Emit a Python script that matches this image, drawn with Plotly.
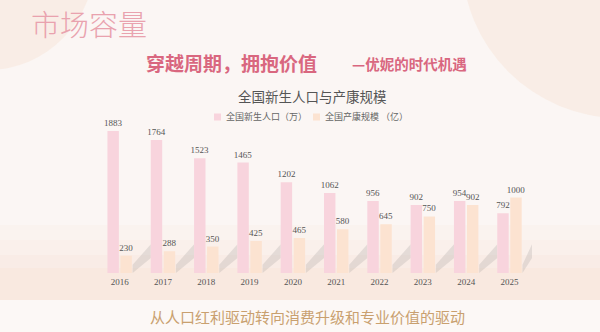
import plotly.graph_objects as go

years = ["2016", "2017", "2018", "2019", "2020", "2021", "2022", "2023", "2024", "2025"]
births = [1883, 1764, 1523, 1465, 1202, 1062, 956, 902, 954, 792]
market = [230, 288, 350, 425, 465, 580, 645, 750, 902, 1000]
births_name = "全国新生人口（万）"
market_name = "全国产康规模 （亿）"

W, H = 600, 332
PINK = "#f8d4dd"
BEIGE = "#fce3d1"
CJK = "Noto Sans CJK SC"
NUM = "Liberation Serif"


def py(px):
    return 1 - px / H


def px_x(px):
    return px / W


fig = go.Figure()
fig.add_trace(go.Bar(x=years, y=births, name=births_name, marker=dict(color=PINK, line=dict(width=0)),
                     text=[str(v) for v in births], textposition="outside", cliponaxis=False,
                     constraintext="none",
                     textfont=dict(family=NUM, size=9, color="#555555"), showlegend=False))
fig.add_trace(go.Bar(x=years, y=market, name=market_name, marker=dict(color=BEIGE, line=dict(width=0)),
                     text=[str(v) for v in market], textposition="outside", cliponaxis=False,
                     constraintext="none",
                     textfont=dict(family=NUM, size=9, color="#555555"), showlegend=False))

shapes = []
shapes.append(dict(type="rect", xref="paper", yref="paper", x0=0, x1=1, y0=0, y1=1,
                   fillcolor="#fbf6f4", line=dict(width=0), layer="below"))
# top-left circle
shapes.append(dict(type="circle", xref="paper", yref="paper",
                   x0=px_x(-120), x1=px_x(95), y0=py(70), y1=py(-150),
                   fillcolor="#f8e9df", line=dict(width=0), layer="below", opacity=0.7))
# top-right circle
shapes.append(dict(type="circle", xref="paper", yref="paper",
                   x0=px_x(620 - 158), x1=px_x(620 + 158), y0=py(-40 + 158), y1=py(-40 - 158),
                   fillcolor="#f8e9df", line=dict(width=0), layer="below", opacity=0.7))
# bottom band gradient
for a, b, op in [(225, 300, 0.15), (240, 300, 0.2), (255, 300, 0.3), (268, 300, 0.45)]:
    shapes.append(dict(type="rect", xref="paper", yref="paper", x0=0, x1=1, y0=py(b), y1=py(a),
                       fillcolor="#f9e6da", line=dict(width=0), layer="below", opacity=op))
shapes.append(dict(type="rect", xref="paper", yref="paper", x0=0, x1=1, y0=0, y1=py(300),
                   fillcolor="#fcf8f6", line=dict(width=0), layer="below"))
# bar shadows
for i in range(len(years)):
    x_end = i + 0.72 if i < len(years) - 1 else i + 0.52
    shapes.append(dict(type="path", xref="x", yref="y",
                       path=f"M {i+0.30},0 L {i+0.30},110 L {x_end},380 L {x_end},200 Z",
                       fillcolor="rgba(130,130,130,0.18)", line=dict(width=0), layer="below"))
# legend squares
shapes.append(dict(type="rect", xref="paper", yref="paper", x0=px_x(214), x1=px_x(221),
                   y0=py(120.5), y1=py(113.5), fillcolor=PINK, line=dict(width=0)))
shapes.append(dict(type="rect", xref="paper", yref="paper", x0=px_x(313), x1=px_x(320),
                   y0=py(120.5), y1=py(113.5), fillcolor=BEIGE, line=dict(width=0)))

ann = []
ann.append(dict(text="市场容量", x=px_x(29), y=py(23), xanchor="left", yanchor="middle",
                font=dict(family=CJK, size=29, color="#e9a2ae", weight=300)))
ann.append(dict(text="穿越周期，拥抱价值", x=px_x(144), y=py(62), xanchor="left", yanchor="middle",
                font=dict(family=CJK, size=19, color="#d9677f", weight=600)))
ann.append(dict(text="—优妮的时代机遇", x=px_x(350), y=py(63), xanchor="left", yanchor="middle",
                font=dict(family=CJK, size=14.5, color="#d9677f", weight=600)))
ann.append(dict(text="全国新生人口与产康规模", x=px_x(312), y=py(96), xanchor="center", yanchor="middle",
                font=dict(family=CJK, size=13.5, color="#555555")))
ann.append(dict(text=births_name, x=px_x(224), y=py(117), xanchor="left", yanchor="middle",
                font=dict(family=CJK, size=9, color="#666666")))
ann.append(dict(text=market_name, x=px_x(323), y=py(117), xanchor="left", yanchor="middle",
                font=dict(family=CJK, size=9, color="#666666")))
ann.append(dict(text="从人口红利驱动转向消费升级和专业价值的驱动", x=px_x(307), y=py(316),
                xanchor="center", yanchor="middle",
                font=dict(family=CJK, size=15, color="#c9a06f")))
for a in ann:
    a.update(xref="paper", yref="paper", showarrow=False)

fig.update_layout(
    width=W, height=H, margin=dict(l=0, r=0, t=0, b=0),
    paper_bgcolor="#fbf6f4", plot_bgcolor="rgba(0,0,0,0)",
    barmode="group", bargap=0.40, bargroupgap=0.12,
    shapes=shapes, annotations=ann, showlegend=False,
    xaxis=dict(domain=[98 / W, 532 / W], showgrid=False, zeroline=False, showline=False,
               ticks="", tickfont=dict(family=NUM, size=9, color="#555555"), ticklabelstandoff=2),
    yaxis=dict(domain=[py(273), py(122.2)], range=[0, 2000], visible=False),
)

fig.write_html("out.html")
